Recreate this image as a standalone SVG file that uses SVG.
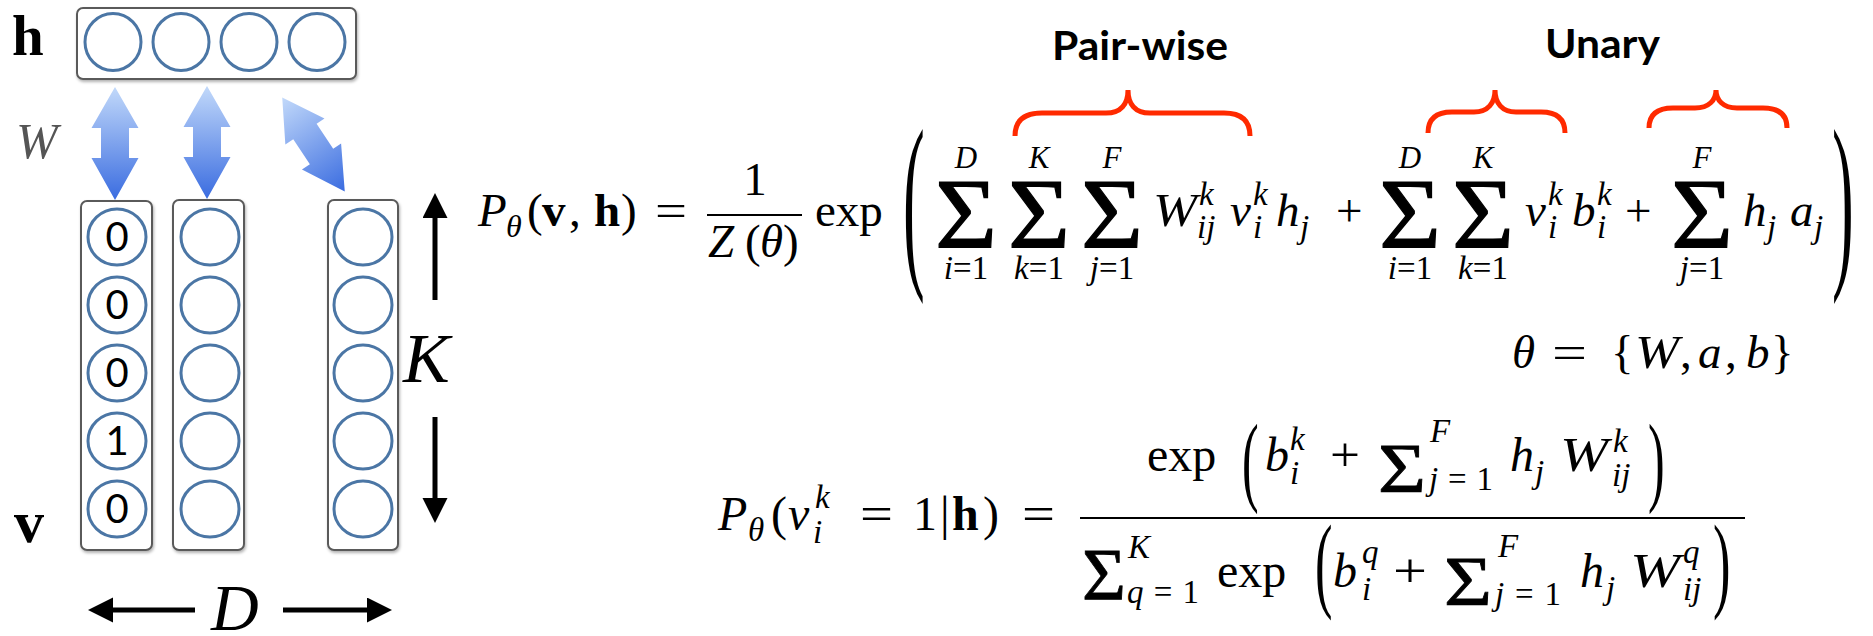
<svg xmlns="http://www.w3.org/2000/svg" width="1873" height="636" viewBox="0 0 1873 636">
<style>
.it{font-family:"Liberation Serif",serif;font-style:italic;fill:#000}
.rm{font-family:"Liberation Serif",serif;fill:#000}
.bf{font-family:"Liberation Serif",serif;font-weight:bold;fill:#000}
.sig{font-family:"Liberation Serif",serif;fill:#000;stroke:#000;stroke-width:1.2}
.lab{font-family:Lato,"Open Sans",sans-serif;font-weight:bold;fill:#000}
.num{font-family:Lato,"Liberation Sans",sans-serif;font-size:40px;fill:#000;text-anchor:middle}
.box{fill:#fff;stroke:#5a5a5a;stroke-width:2;filter:url(#sh)}
.unit{fill:none;stroke:#4b76a5;stroke-width:3}
.brace{fill:none;stroke:#ff2a00;stroke-width:5;stroke-linecap:butt}
.dim{stroke:#000;stroke-width:5;fill:none;marker-end:url(#ah)}
.bar{stroke:#000;stroke-width:2}
.mid{text-anchor:middle}
</style>
<defs>
<filter id="sh" x="-20%" y="-20%" width="140%" height="140%">
<feDropShadow dx="1" dy="2" stdDeviation="1.5" flood-color="#000" flood-opacity="0.3"/>
</filter>
<linearGradient id="gblue" x1="0" y1="0" x2="0" y2="1">
<stop offset="0" stop-color="#c2d9fa"/>
<stop offset="1" stop-color="#3a6ce0"/>
</linearGradient>
<path id="darrow" d="M0,-56.5 L23.5,-15.5 L14,-15.5 L14,14.5 L23.5,14.5 L0,56.5 L-23.5,14.5 L-14,14.5 L-14,-15.5 L-23.5,-15.5 Z" fill="url(#gblue)"/>
<marker id="ah" markerUnits="userSpaceOnUse" markerWidth="26" markerHeight="26" refX="5" refY="12.5" orient="auto">
<path d="M0,0 L25,12.5 L0,25 Z" fill="#000"/>
</marker>
</defs>
<rect width="1873" height="636" fill="#fff"/>

<g id="hidden">
<rect class="box" x="77" y="8" width="279" height="71" rx="6"/>
<ellipse class="unit" cx="113" cy="42" rx="28" ry="28.5"/>
<ellipse class="unit" cx="181" cy="42" rx="28" ry="28.5"/>
<ellipse class="unit" cx="249" cy="42" rx="28" ry="28.5"/>
<ellipse class="unit" cx="317" cy="42" rx="28" ry="28.5"/>
</g>

<g id="visible1">
<rect class="box" x="81" y="201" width="71" height="349" rx="6"/>
<ellipse class="unit" cx="117" cy="237" rx="29" ry="28"/>
<ellipse class="unit" cx="117" cy="305" rx="29" ry="28"/>
<ellipse class="unit" cx="117" cy="373" rx="29" ry="28"/>
<ellipse class="unit" cx="117" cy="441" rx="29" ry="28"/>
<ellipse class="unit" cx="117" cy="509" rx="29" ry="28"/>
<text class="num" x="117" y="251">0</text>
<text class="num" x="117" y="319">0</text>
<text class="num" x="117" y="387">0</text>
<text class="num" x="117" y="455">1</text>
<text class="num" x="117" y="523">0</text>
</g>
<g id="visible2">
<rect class="box" x="173" y="200" width="71" height="350" rx="6"/>
<ellipse class="unit" cx="210" cy="237" rx="29" ry="28"/>
<ellipse class="unit" cx="210" cy="305" rx="29" ry="28"/>
<ellipse class="unit" cx="210" cy="373" rx="29" ry="28"/>
<ellipse class="unit" cx="210" cy="441" rx="29" ry="28"/>
<ellipse class="unit" cx="210" cy="509" rx="29" ry="28"/>
</g>
<g id="visible3">
<rect class="box" x="328" y="200" width="70" height="350" rx="6"/>
<ellipse class="unit" cx="363" cy="237" rx="29" ry="28"/>
<ellipse class="unit" cx="363" cy="305" rx="29" ry="28"/>
<ellipse class="unit" cx="363" cy="373" rx="29" ry="28"/>
<ellipse class="unit" cx="363" cy="441" rx="29" ry="28"/>
<ellipse class="unit" cx="363" cy="509" rx="29" ry="28"/>
</g>

<g id="connectors">
<use href="#darrow" transform="translate(115,143.5)"/>
<use href="#darrow" transform="translate(207,142.5)"/>
<use href="#darrow" transform="translate(313.5,144.5) rotate(-33.6)"/>
</g>

<g id="dimensions">
<line class="dim" x1="435" y1="300" x2="435" y2="213"/>
<line class="dim" x1="435" y1="417" x2="435" y2="503"/>
<line class="dim" x1="195" y1="610" x2="108" y2="610"/>
<line class="dim" x1="283" y1="610" x2="372" y2="610"/>
</g>

<g id="labels">
<text class="bf" x="12" y="55" font-size="57">h</text>
<text class="bf" x="14" y="542" font-size="60">v</text>
<text class="it" x="16" y="158" font-size="50" style="fill:#555">W</text>
<text class="it" x="403" y="382" font-size="70">K</text>
<text class="it" x="211" y="630" font-size="66">D</text>
</g>

<g id="eq1">
<text class="it" x="478" y="226" font-size="47">P</text>
<text class="it" x="506" y="237" font-size="32">θ</text>
<text class="rm" x="527" y="226" font-size="47">(</text>
<text class="bf" x="542" y="226" font-size="47">v</text>
<text class="rm" x="569" y="226" font-size="47">,</text>
<text class="bf" x="594" y="226" font-size="47">h</text>
<text class="rm" x="621" y="226" font-size="47">)</text>
<text class="rm" x="655" y="226" font-size="47" textLength="32" lengthAdjust="spacingAndGlyphs">=</text>
<text class="rm mid" x="755" y="195" font-size="47">1</text>
<line class="bar" x1="707" y1="215" x2="802" y2="215"/>
<text class="it" x="708" y="257" font-size="47">Z</text>
<text class="rm" x="745" y="257" font-size="47">(</text>
<text class="it" x="760" y="257" font-size="47">θ</text>
<text class="rm" x="783" y="257" font-size="47">)</text>
<text class="rm" x="815" y="226" font-size="47">exp</text>
<text class="rm" font-size="192" transform="translate(903,263) scale(0.34,1)">(</text>

<text class="sig mid" x="966" y="247" font-size="100" textLength="62" lengthAdjust="spacingAndGlyphs">Σ</text>
<text class="sig mid" x="1039" y="247" font-size="100" textLength="62" lengthAdjust="spacingAndGlyphs">Σ</text>
<text class="sig mid" x="1112" y="247" font-size="100" textLength="62" lengthAdjust="spacingAndGlyphs">Σ</text>
<text class="it mid" x="966" y="168" font-size="31">D</text>
<text class="it mid" x="1039" y="168" font-size="31">K</text>
<text class="it mid" x="1112" y="168" font-size="31">F</text>
<text class="rm mid" x="966" y="279" font-size="33"><tspan class="it">i</tspan>=1</text>
<text class="rm mid" x="1039" y="279" font-size="33"><tspan class="it">k</tspan>=1</text>
<text class="rm mid" x="1112" y="279" font-size="33"><tspan class="it">j</tspan>=1</text>

<text class="it" x="1153" y="226" font-size="47" textLength="44" lengthAdjust="spacingAndGlyphs">W</text>
<text class="it" x="1199" y="205" font-size="33">k</text>
<text class="it" x="1197" y="238" font-size="33">ij</text>
<text class="it" x="1230" y="226" font-size="47">v</text>
<text class="it" x="1253" y="205" font-size="33">k</text>
<text class="it" x="1253" y="238" font-size="33">i</text>
<text class="it" x="1276" y="226" font-size="47">h</text>
<text class="it" x="1300" y="238" font-size="33">j</text>
<text class="rm" x="1336" y="226" font-size="47">+</text>

<text class="sig mid" x="1410" y="247" font-size="100" textLength="62" lengthAdjust="spacingAndGlyphs">Σ</text>
<text class="sig mid" x="1483" y="247" font-size="100" textLength="62" lengthAdjust="spacingAndGlyphs">Σ</text>
<text class="it mid" x="1410" y="168" font-size="31">D</text>
<text class="it mid" x="1483" y="168" font-size="31">K</text>
<text class="rm mid" x="1410" y="279" font-size="33"><tspan class="it">i</tspan>=1</text>
<text class="rm mid" x="1483" y="279" font-size="33"><tspan class="it">k</tspan>=1</text>
<text class="it" x="1525" y="226" font-size="47">v</text>
<text class="it" x="1548" y="205" font-size="33">k</text>
<text class="it" x="1548" y="238" font-size="33">i</text>
<text class="it" x="1572" y="226" font-size="47">b</text>
<text class="it" x="1597" y="205" font-size="33">k</text>
<text class="it" x="1597" y="238" font-size="33">i</text>
<text class="rm" x="1625" y="226" font-size="47">+</text>

<text class="sig mid" x="1702" y="247" font-size="100" textLength="62" lengthAdjust="spacingAndGlyphs">Σ</text>
<text class="it mid" x="1702" y="168" font-size="31">F</text>
<text class="rm mid" x="1702" y="279" font-size="33"><tspan class="it">j</tspan>=1</text>
<text class="it" x="1743" y="226" font-size="47">h</text>
<text class="it" x="1767" y="238" font-size="33">j</text>
<text class="it" x="1790" y="226" font-size="47">a</text>
<text class="it" x="1814" y="238" font-size="33">j</text>
<text class="rm" font-size="192" transform="translate(1832,263) scale(0.34,1)">)</text>
</g>

<g id="pairwise">
<path class="brace" d="M1015,136 C1015,121 1024,113 1042,113 L1106,113 C1121,113 1128,104 1128,90 C1128,104 1135,113 1150,113 L1224,113 C1242,113 1250,121 1250,136"/>
<text class="lab" x="1052" y="60" font-size="40" textLength="176" lengthAdjust="spacingAndGlyphs">Pair-wise</text>
</g>
<g id="unary">
<path class="brace" d="M1428,133 C1428,119 1436,112 1452,112 L1474,112 C1488,112 1495,103 1495,90 C1495,103 1502,112 1516,112 L1541,112 C1557,112 1565,119 1565,133"/>
<path class="brace" d="M1649,128 C1649,115 1657,108 1673,108 L1695,108 C1709,108 1716,100 1716,90 C1716,100 1723,108 1737,108 L1763,108 C1779,108 1787,115 1787,128"/>
<text class="lab" x="1545" y="58" font-size="40" textLength="115" lengthAdjust="spacingAndGlyphs">Unary</text>
</g>

<g id="theta">
<text class="it" x="1512" y="368" font-size="47">θ</text>
<text class="rm" x="1552" y="368" font-size="47" textLength="35" lengthAdjust="spacingAndGlyphs">=</text>
<text class="rm" x="1611" y="368" font-size="47">{</text>
<text class="it" x="1635" y="368" font-size="47" textLength="44" lengthAdjust="spacingAndGlyphs">W</text>
<text class="rm" x="1680" y="368" font-size="47">,</text>
<text class="it" x="1698" y="368" font-size="47">a</text>
<text class="rm" x="1725" y="368" font-size="47">,</text>
<text class="it" x="1746" y="368" font-size="47">b</text>
<text class="rm" x="1771" y="368" font-size="47">}</text>
</g>

<g id="eq2">
<text class="it" x="718" y="530" font-size="48">P</text>
<text class="it" x="748" y="541" font-size="33">θ</text>
<text class="rm" x="771" y="530" font-size="48">(</text>
<text class="it" x="788" y="530" font-size="48">v</text>
<text class="it" x="815" y="508" font-size="33">k</text>
<text class="it" x="813" y="543" font-size="33">i</text>
<text class="rm" x="860" y="530" font-size="48" textLength="33" lengthAdjust="spacingAndGlyphs">=</text>
<text class="rm" x="913" y="530" font-size="48">1</text>
<text class="rm" x="940" y="530" font-size="48">|</text>
<text class="bf" x="952" y="530" font-size="48">h</text>
<text class="rm" x="983" y="530" font-size="48">)</text>
<text class="rm" x="1022" y="530" font-size="48" textLength="33" lengthAdjust="spacingAndGlyphs">=</text>
<line class="bar" x1="1080" y1="518" x2="1745" y2="518"/>

<text class="rm" x="1147" y="471" font-size="48">exp</text>
<text class="rm" font-size="100" transform="translate(1242,493) scale(0.5,1)">(</text>
<text class="it" x="1265" y="471" font-size="48">b</text>
<text class="it" x="1290" y="450" font-size="33">k</text>
<text class="it" x="1290" y="484" font-size="33">i</text>
<text class="rm" x="1330" y="471" font-size="48" textLength="30" lengthAdjust="spacingAndGlyphs">+</text>
<text class="sig" x="1378" y="492" font-size="70" textLength="48" lengthAdjust="spacingAndGlyphs" style="stroke-width:0.8">Σ</text>
<text class="it" x="1430" y="442" font-size="33">F</text>
<text class="rm" x="1429" y="490" font-size="33" textLength="64" lengthAdjust="spacing"><tspan class="it">j</tspan>=1</text>
<text class="it" x="1510" y="471" font-size="48">h</text>
<text class="it" x="1535" y="483" font-size="33">j</text>
<text class="it" x="1560" y="471" font-size="48" textLength="48" lengthAdjust="spacingAndGlyphs">W</text>
<text class="it" x="1613" y="452" font-size="33">k</text>
<text class="it" x="1612" y="486" font-size="33">ij</text>
<text class="rm" font-size="100" transform="translate(1648,493) scale(0.5,1)">)</text>

<text class="sig" x="1082" y="600" font-size="74" textLength="44" lengthAdjust="spacingAndGlyphs" style="stroke-width:0.8">Σ</text>
<text class="it" x="1128" y="558" font-size="33">K</text>
<text class="rm" x="1127" y="603" font-size="33" textLength="72" lengthAdjust="spacing"><tspan class="it">q</tspan>=1</text>
<text class="rm" x="1217" y="587" font-size="48">exp</text>
<text class="rm" font-size="105" transform="translate(1315,598) scale(0.5,1)">(</text>
<text class="it" x="1333" y="587" font-size="48">b</text>
<text class="it" x="1362" y="563" font-size="33">q</text>
<text class="it" x="1362" y="600" font-size="33">i</text>
<text class="rm" x="1393" y="587" font-size="48" textLength="34" lengthAdjust="spacingAndGlyphs">+</text>
<text class="sig" x="1444" y="605" font-size="70" textLength="48" lengthAdjust="spacingAndGlyphs" style="stroke-width:0.8">Σ</text>
<text class="it" x="1498" y="557" font-size="33">F</text>
<text class="rm" x="1495" y="605" font-size="33" textLength="66" lengthAdjust="spacing"><tspan class="it">j</tspan>=1</text>
<text class="it" x="1580" y="587" font-size="48">h</text>
<text class="it" x="1606" y="599" font-size="33">j</text>
<text class="it" x="1630" y="587" font-size="48" textLength="50" lengthAdjust="spacingAndGlyphs">W</text>
<text class="it" x="1683" y="563" font-size="33">q</text>
<text class="it" x="1683" y="600" font-size="33">ij</text>
<text class="rm" font-size="105" transform="translate(1713,598) scale(0.5,1)">)</text>
</g>
</svg>
